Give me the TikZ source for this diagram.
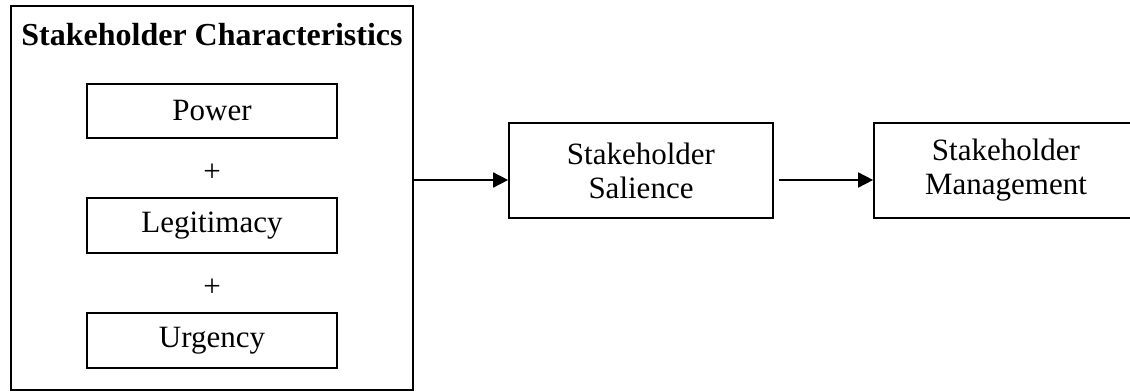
\documentclass[tikz,border=0pt]{standalone}
\usepackage{fontspec}
\setmainfont{Liberation Serif}
\usetikzlibrary{arrows.meta}
\begin{document}
\begin{tikzpicture}[x=1pt,y=-1pt,
  every node/.style={font=\fontsize{31}{34}\selectfont, inner sep=0pt},
  frame/.style={draw, line width=1.7pt, rectangle},
  attr/.style={frame, minimum width=250pt, minimum height=54pt},
  stage/.style={frame, align=center, minimum width=264pt, minimum height=95pt},
  link/.style={line width=1.7pt, -{Triangle[length=15pt,width=15pt]}}]
  \clip (0,0) rectangle (1130,391);
  \fill[white] (0,0) rectangle (1130,391);
  % enclosing group of the three characteristics
  \node[frame, minimum width=402pt, minimum height=384pt] (outer) at (212,198) {};
  \node[anchor=base, font=\fontsize{32}{35}\selectfont\bfseries] (title) at (212,45) {Stakeholder Characteristics};
  \node[attr] (power) at (212,111) {Power};
  \node (plusa) at (212,173) {+};
  \node[attr, minimum height=55pt] (legit) at (212,225.5) {\raisebox{-2pt}{Legitimacy}};
  \node (plusb) at (212,288) {+};
  \node[attr, minimum height=55pt] (urg) at (212,340.5) {Urgency};
  % outcome stages
  \node[stage] (sal) at (641,170.5) {Stakeholder\\Salience};
  \node[stage] (mgmt) at (1006,170.5) {Stakeholder\\Management};
  \coordinate (row) at (0,180);
  \draw[link] (outer.east |- row) -- (sal.west |- row);
  \draw[link] ([xshift=5pt]sal.east |- row) -- (mgmt.west |- row);
\end{tikzpicture}
\end{document}
